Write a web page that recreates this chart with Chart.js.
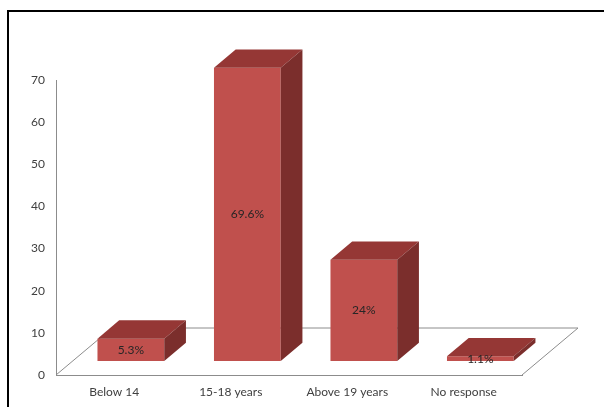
<!DOCTYPE html>
<html>
<head>
<meta charset="utf-8">
<script src="https://cdn.jsdelivr.net/npm/chart.js@4.4.0/dist/chart.umd.min.js"></script>
<style>
  body { margin: 0; background: #fff; }
  #wrap { position: relative; width: 604px; height: 407px; }
  #frame { position: absolute; left: 7px; top: 10px; width: 700px; height: 500px;
           border-left: 2px solid #000; border-top: 2px solid #000; pointer-events: none; }
</style>
</head>
<body>
<div id="wrap">
  <canvas id="myChart"></canvas>
  <div id="frame"></div>
</div>
<script>
// chart data
const categories = ['Below 14', '15-18 years', 'Above 19 years', 'No response'];
const values = [5.3, 69.6, 24, 1.1];
const valueLabels = ['5.3%', '69.6%', '24%', '1.1%'];
const yTicks = [0, 10, 20, 30, 40, 50, 60, 70];

// fake 3d look
const floorDepth = { x: 56, y: -47 };
const barShift = { x: 16.6, y: -14 };
const barDepth = { x: 21.7, y: -18.3 };
const frontColor = '#C0504D';
const topColor = '#953735';
const sideColor = '#7B2E2C';
const lineColor = '#8C8C8C';

const box3d = {
  id: 'box3d',
  beforeDatasetsDraw(chart) {
    const ctx = chart.ctx;
    const a = chart.chartArea;
    ctx.save();
    ctx.strokeStyle = lineColor;
    ctx.lineWidth = 1;
    ctx.beginPath();
    ctx.moveTo(a.left, a.bottom);
    ctx.lineTo(a.left + floorDepth.x, a.bottom + floorDepth.y);
    ctx.lineTo(a.right + floorDepth.x, a.bottom + floorDepth.y);
    ctx.lineTo(a.right, a.bottom);
    ctx.stroke();
    ctx.restore();
    ctx.save();
    ctx.translate(barShift.x, barShift.y);
  },
  afterDatasetsDraw(chart) {
    const ctx = chart.ctx;
    const bars = chart.getDatasetMeta(0).data;
    bars.forEach(function(bar, i) {
      const p = bar.getProps(['x', 'y', 'base', 'width'], true);
      const l = p.x - p.width / 2, r = p.x + p.width / 2;
      const t = p.y, b = p.base;
      // top face
      ctx.fillStyle = topColor;
      ctx.beginPath();
      ctx.moveTo(l, t);
      ctx.lineTo(l + barDepth.x, t + barDepth.y);
      ctx.lineTo(r + barDepth.x, t + barDepth.y);
      ctx.lineTo(r, t);
      ctx.closePath();
      ctx.fill();
      // side face
      ctx.fillStyle = sideColor;
      ctx.beginPath();
      ctx.moveTo(r, t);
      ctx.lineTo(r + barDepth.x, t + barDepth.y);
      ctx.lineTo(r + barDepth.x, b + barDepth.y);
      ctx.lineTo(r, b);
      ctx.closePath();
      ctx.fill();
      // label
      ctx.fillStyle = '#262626';
      ctx.font = '12px Lato, "Open Sans", sans-serif';
      ctx.textAlign = 'center';
      ctx.textBaseline = 'middle';
      ctx.fillText(valueLabels[i], p.x, (t + b) / 2);
    });
    ctx.restore();
  }
};

window.onload = function() {
  var ctx = document.getElementById('myChart').getContext('2d');
  Chart.defaults.font.family = 'Lato, "Open Sans", sans-serif';
  Chart.defaults.font.size = 12;
  Chart.defaults.color = '#404040';
  new Chart(ctx, {
    type: 'bar',
    data: {
      labels: categories,
      datasets: [{
        data: values,
        backgroundColor: frontColor,
        borderWidth: 0,
        categoryPercentage: 1,
        barPercentage: 0.573
      }]
    },
    options: {
      responsive: true,
      maintainAspectRatio: false,
      animation: false,
      layout: { padding: { left: 0, top: 80, right: 82, bottom: 0 } },
      plugins: {
        legend: { display: false },
        tooltip: { enabled: false }
      },
      scales: {
        x: {
          grid: { display: false, drawTicks: false },
          border: { display: true, color: lineColor },
          ticks: { padding: 10 },
          afterFit: function(s) { s.height = 32; }
        },
        y: {
          min: 0,
          max: 70,
          grid: { display: false, drawTicks: false },
          border: { display: true, color: lineColor },
          afterBuildTicks: function(s) { s.ticks = yTicks.map(v => ({ value: v })); },
          ticks: { padding: 11 },
          afterFit: function(s) { s.width = 56; }
        }
      }
    },
    plugins: [box3d]
  });
};
</script>
</body>
</html>
